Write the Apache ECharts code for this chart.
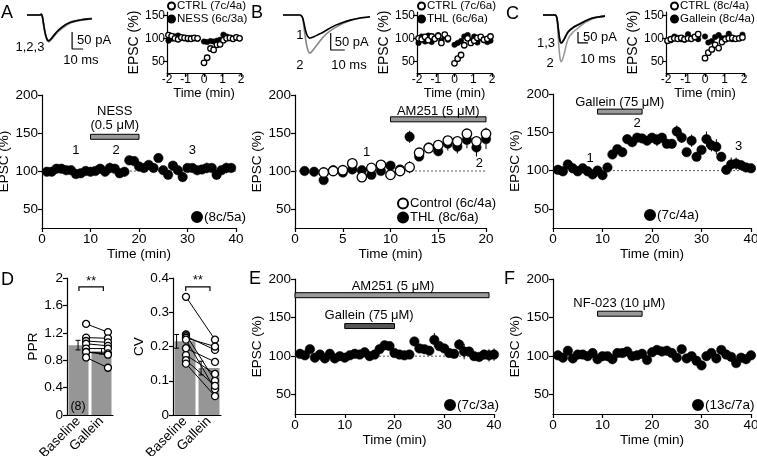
<!DOCTYPE html>
<html><head><meta charset="utf-8">
<script src="https://cdn.jsdelivr.net/npm/echarts@6/dist/echarts.min.js"></script>
<style>html,body{margin:0;padding:0;background:#fff}#c{width:757px;height:456px}</style>
</head><body><div id="c"></div>
<script>
// ---------------- DATA ----------------
// sample traces (ms, pA)
const traceTimeA = [0,12,13,14,15,16,17,18,19,20,22,25,28,32,36,40,45,50,55,59];
const trace1A = [0,0,3,-5,-25,-45,-60,-70,-75,-76,-70,-58,-47,-36,-27,-21,-17,-14,-12,-11];
const trace2A = [0,0,3,-5,-27,-48,-63,-73,-78,-79,-73,-61,-50,-39,-30,-23,-18,-15,-13,-11];
const trace3A = [0,0,3,-5,-24,-44,-59,-69,-74,-75,-69,-57,-46,-35,-26,-20,-16,-13,-11,-10];
const traceTimeB = [0,12,13,14,15,16,17,18,19,20,22,25,28,32,38,43,48,55,62];
const trace1B = [0,0,-2,-8,-25,-45,-58,-65,-68,-67,-64,-58,-52,-42,-29,-21,-15,-9,-5];
const trace2B = [0,0,-2,-10,-38,-68,-92,-106,-112,-110,-100,-84,-68,-52,-35,-24,-16,-9,-5];
const traceTimeC = [0,12,13,14,15,16,17,18,19,21,25,30,35,42,49,55,62];
const trace1C = [0,0,-3,-15,-50,-90,-118,-128,-126,-112,-78,-58,-45,-28,-15,-9,-5];
const trace2C = [0,0,-3,-20,-80,-150,-195,-212,-208,-180,-110,-78,-60,-35,-18,-10,-5];
const trace3C = [0,0,-3,-14,-48,-88,-115,-125,-124,-110,-76,-56,-44,-27,-14,-9,-5];
const scaleBarA = [[41,-50],[41,-100],[51,-100]];
const scaleBarB = [[34,-53],[34,-103],[44,-103]];
const scaleBarC = [[35,-77],[35,-127],[45,-127]];

// insets (min, %)
const insetTime = [-1.92,-1.75,-1.57,-1.4,-1.22,-1.05,-0.87,-0.7,-0.52,-0.35,0,0.17,0.35,0.52,0.7,0.87,1.05,1.22,1.4,1.57,1.75,1.92];
const insetNessA = [95,99,104,106,101,100,98,101,100,99,93,92,94,93,95,97,108,104,101,99,102,100];
const insetCtrlA = [107,105,100,98,102,101,100,99,101,100,47,58,78,75,86,87,96,100,101,99,102,100];
const insetThlB  = [90,104,93,106,92,101,107,95,104,97,86,90,94,104,107,96,104,91,100,96,92,95];
const insetCtrlB = [100,98,103,96,104,99,105,90,108,100,46,56,64,85,100,90,95,101,103,97,99,104];
const insetGalC  = [94,96,104,101,98,97,109,100,102,98,104,91,94,103,107,100,101,110,98,99,100,108];
const insetCtrlC = [95,98,100,99,101,98,100,99,103,109,57,69,76,86,79,92,98,100,101,99,100,102];

// main A: NESS
const timeA = [1,2,3,4,5,6,7,8,9,10,11,12,13,14,15,16,17,18,19,20,21,22,23,24,25,26,27,28,29,30,31,32,33,34,35,36,37,38,39];
const nessMain = [99,99,103,103,101,101,96,97,100,99,100,103,99,104,103,97,99,114,113,106,104,108,104,117,101,95,107,101,92,104,104,101,102,104,104,95,101,104,104];
const nessErr  = [3,3,4,4,3,3,4,3,3,3,3,4,4,7,4,6,6,4,4,4,4,3,3,3,3,4,3,3,6,4,5,4,4,7,4,6,5,7,6];
// main B: AM251
const timeThlB = [1,2,3,4,5,6,7,8,9,10,11,12,13,14,15,16,17,18,19,20];
const thlMain  = [100,99,88,101,98,102,101,95,100,107,102,145,119,131,126,136,132,141,131,142];
const thlErr   = [2,2,4,5,4,4,3,5,4,4,5,8,5,6,6,9,9,11,12,13];
const timeCtrlB = [3,4,5,6,7,8,9,10,11,12,13,14,15,16,17,18,19,20];
const ctrlMain  = [98,100,101,110,92,104,108,95,100,105,124,130,134,140,139,149,139,149];
const ctrlErr   = [4,4,4,6,5,4,5,4,5,8,5,6,6,6,5,6,6,8];
// main C: Gallein
const timeC = [1,2,3,4,5,6,7,8,9,10,11,12,13,14,15,16,17,18,19,20,21,22,23,24,25,26,27,28,29,30,31,32,33,34,35,36,37,38,39,40];
const galMain = [101,99,108,103,99,103,99,95,100,94,104,121,128,124,141,137,143,142,139,143,140,143,135,135,151,143,124,139,118,127,141,133,131,118,101,108,109,107,104,103];
const galErr  = [3,3,3,3,3,3,3,3,3,5,5,5,5,5,6,5,5,4,4,5,8,6,4,4,8,7,4,8,5,4,10,8,10,6,6,9,8,6,4,4];
// E: AM251 + Gallein
const timeE = [1,2,3,4,5,6,7,8,9,10,11,12,13,14,15,16,17,18,19,20,21,22,23,24,25,26,27,28,29,30,31,32,33,34,35,36,37,38,39,40];
const amGalMain = [103,101,109,98,102,97,103,97,100,98,101,103,102,105,100,102,109,114,113,104,102,101,102,119,110,109,107,121,113,110,104,103,115,106,106,100,99,102,101,102];
const amGalErr  = [3,3,5,3,3,3,3,3,3,3,3,3,3,3,3,3,3,5,3,3,3,3,3,5,3,3,3,9,6,3,3,3,7,10,3,3,3,6,8,8];
// F: NF-023
const timeF = [1,2,3,4,5,6,7,8,9,10,11,12,13,14,15,16,17,18,19,20,21,22,23,24,25,26,27,28,29,30,31,32,33,34,35,36,37,38,39,40];
const nfMain = [101,98,107,97,102,102,100,104,96,100,100,96,104,104,106,100,101,103,95,105,108,106,107,104,98,109,97,100,94,88,100,104,97,108,102,99,91,98,96,101];
const nfErr  = [2,2,3,2,2,2,2,2,2,2,2,2,2,2,2,2,2,2,3,2,2,2,2,2,2,2,2,2,2,2,2,2,2,2,2,2,2,2,2,2];

// D: PPR and CV
const dCats = ['Baseline','Gallein'];
const pprBase = [1.33,1.13,1.08,1.04,0.97,0.92,0.92,0.84];
const pprGall = [1.21,1.12,1.06,1.01,0.97,0.90,0.88,0.69];
const pprMean = [1.02,0.93];
const pprSem  = [0.07,0.04];
const cvBase = [0.345,0.235,0.23,0.225,0.22,0.195,0.175,0.16,0.15];
const cvGall = [0.22,0.10,0.19,0.20,0.075,0.155,0.12,0.085,0.055];
const cvMean = [0.215,0.137];
const cvSem  = [0.02,0.02];

// drug bars [start, end, level]
const drugNESS = [10,20,145];
const drugAM251B = [10,20,168];
const drugGalC = [9,18,177];
const drugAM251E = [0,39,179];
const drugGalE = [10,20,139];
const drugNF = [9,18,155];

// tick labels
const mainYTicks = [50,100,150,200];
const insetYTicks = [50,100,150];

// text annotations [x, y, text]
const annotA = [[7,127,'1'],[15.3,127,'2'],[31,127,'3'],[15,178,'NESS'],[15,160,'(0.5 μM)']];
const annotB = [[7.5,125,'1'],[19.3,110,'2'],[15,179,'AM251 (5 μM)']];
const annotC = [[7.5,116,'1'],[17,162,'2'],[37.5,131,'3'],[13.5,189,'Gallein (75 μM)']];
const annotE = [[19.7,191,'AM251 (5 μM)'],[14.9,153,'Gallein (75 μM)']];
const annotF = [[13.4,168,'NF-023 (10 μM)']];
const traceTextA = [[61,-76,'50 pA'],[49,-135,'10 ms'],[2.7,-94,'1,2,3']];
const traceTextB = [[49,-82,'50 pA'],[47,-147,'10 ms'],[12,-59,'1'],[12,-147,'2']];
const traceTextC = [[57,-100,'50 pA'],[55,-200,'10 ms'],[3,-127,'1,3'],[7,-218,'2']];

// ---------------- HELPERS ----------------
const FONT = '"Liberation Sans", Arial, Helvetica, sans-serif';
const FS = 13.5, FT = 13, FSI = 11.5;
function axis(o, fs, lm) {
  fs = fs || FS;
  const a = {
    type:'value', splitLine:{show:false},
    axisLine:{show:true, onZero:false, lineStyle:{color:'#000', width:1.2}},
    axisTick:{show:true, length:4, lineStyle:{color:'#000', width:1.2}},
    axisLabel:{color:'#000', fontSize:fs, fontFamily:FONT, margin:(lm==null?4:lm)},
    nameTextStyle:{color:'#000', fontSize:fs, fontFamily:FONT},
    nameLocation:'middle'
  };
  for (const k in o) {
    if (o[k] && typeof o[k]==='object' && !Array.isArray(o[k]) && a[k]) Object.assign(a[k], o[k]);
    else a[k] = o[k];
  }
  return a;
}
const hid = (g,min,max) => ({type:'value', gridIndex:g, min, max, show:false});
function pairs(t, v) { return t.map((x,i)=>[x, v[i]]); }
function triples(t, v, e) { return t.map((x,i)=>[x, v[i], e[i]]); }

function dotS(name, xi, yi, data, filled, size) {
  return {type:'scatter', name, xAxisIndex:xi, yAxisIndex:yi, data, symbol:'circle', symbolSize:size, silent:true, z:3,
    itemStyle: filled ? {color:'#000', borderColor:'#000', borderWidth:0.5, opacity:1} : {color:'#fff', borderColor:'#000', borderWidth:1.3, opacity:1}};
}
function errS(xi, yi, data, cap, z) {
  return {type:'custom', xAxisIndex:xi, yAxisIndex:yi, silent:true, z:z||2, data, encode:{x:0, y:1},
    renderItem(p, api) {
      const x=api.value(0), y=api.value(1), e=api.value(2);
      const a=api.coord([x,y-e]), b=api.coord([x,y+e]);
      const st={stroke:'#000', lineWidth:1};
      const ch=[{type:'line', shape:{x1:a[0],y1:a[1],x2:b[0],y2:b[1]}, style:st}];
      if (cap) {
        ch.push({type:'line', shape:{x1:a[0]-cap,y1:a[1],x2:a[0]+cap,y2:a[1]}, style:st});
        ch.push({type:'line', shape:{x1:b[0]-cap,y1:b[1],x2:b[0]+cap,y2:b[1]}, style:st});
      }
      return {type:'group', children:ch};
    }};
}
function drugBar(xi, yi, d, color) {
  return {type:'custom', xAxisIndex:xi, yAxisIndex:yi, silent:true, z:2, data:[d], encode:{x:[0,1], y:2},
    renderItem(p, api) {
      const a=api.coord([api.value(0), api.value(2)]), b=api.coord([api.value(1), api.value(2)]);
      return {type:'rect', shape:{x:a[0], y:a[1]-2.5, width:b[0]-a[0], height:5}, style:{fill:color, stroke:'#000', lineWidth:1}};
    }};
}
function refLine(xi, yi, x0, x1, y) {
  return {type:'custom', xAxisIndex:xi, yAxisIndex:yi, silent:true, z:1, data:[[x0,x1,y]], encode:{x:[0,1], y:2},
    renderItem(p, api) {
      const a=api.coord([api.value(0), api.value(2)]), b=api.coord([api.value(1), api.value(2)]);
      return {type:'line', shape:{x1:a[0],y1:a[1],x2:b[0],y2:b[1]}, style:{stroke:'#555', lineWidth:1, lineDash:[2,2]}};
    }};
}
function textS(xi, yi, items, fs) {
  return {type:'custom', xAxisIndex:xi, yAxisIndex:yi, silent:true, z:5, data:items.map(d=>[d[0],d[1]]),
    renderItem(p, api) {
      const d=items[p.dataIndex]; const c=api.coord([d[0], d[1]]);
      return {type:'text', x:c[0], y:c[1], style:{text:d[2], fill:'#000', align:'center', verticalAlign:'middle', fontSize:fs, fontFamily:FONT}};
    }};
}
function traceS(xi, yi, t, v, color) {
  return {type:'line', xAxisIndex:xi, yAxisIndex:yi, data:pairs(t,v), showSymbol:false, symbol:'none', smooth:0.3, silent:true, z:2,
    lineStyle:{color, width:1.6}};
}
function barScale(xi, yi, pts) {
  return {type:'line', xAxisIndex:xi, yAxisIndex:yi, data:pts, showSymbol:false, symbol:'none', silent:true, z:2, lineStyle:{color:'#000', width:1.2}};
}
function pairLines(xi, yi, xa, xb, va, vb) {
  return {type:'custom', xAxisIndex:xi, yAxisIndex:yi, silent:true, z:2, data:va.map((v,i)=>[v, vb[i]]), encode:{y:[0,1]},
    renderItem(p, api) {
      const a=api.coord([xa, api.value(0)]), b=api.coord([xb, api.value(1)]);
      return {type:'line', shape:{x1:a[0],y1:a[1],x2:b[0],y2:b[1]}, style:{stroke:'#000', lineWidth:1}};
    }};
}
function bracket(xi, yi, x0, x1, y) {
  return {type:'custom', xAxisIndex:xi, yAxisIndex:yi, silent:true, z:2, data:[[x0,x1,y]], encode:{x:[0,1], y:2},
    renderItem(p, api) {
      const a=api.coord([api.value(0), api.value(2)]), b=api.coord([api.value(1), api.value(2)]);
      return {type:'polyline', shape:{points:[[a[0],a[1]+4],[a[0],a[1]],[b[0],b[1]],[b[0],b[1]+4]]}, style:{stroke:'#000', lineWidth:1.2, fill:null}};
    }};
}
function leg(names, left, top, fs, icon, gap) {
  return {data:names, left, top, orient:'vertical', itemWidth:icon, itemHeight:icon, itemGap:gap, padding:0, selectedMode:false,
    icon:'circle', textStyle:{color:'#000', fontSize:fs, fontFamily:FONT, padding:[0,0,0,-3]}};
}

// ---------------- OPTION ----------------
const G = (left, top, width, height) => ({left, top, width, height, outerBoundsMode:'none', containLabel:false});
const grid = [
  G(27, 9.9, 66, 56.1),
  G(283, 9.9, 87, 59.5),
  G(543, 10.6, 62, 57.2),
  G(167, 12, 74, 61),
  G(417, 12, 75, 61),
  G(666, 12, 78, 61),
  G(42, 95, 194, 133),
  G(295, 95, 191, 133),
  G(553, 94, 198, 134),
  G(67, 278, 46, 137),
  G(173, 278, 48, 137),
  G(295, 279, 199, 135),
  G(553, 279, 198, 135)
];
const insetX = g => axis({gridIndex:g, min:-2, max:2, interval:1, name:'Time (min)', nameGap:5, nameTextStyle:{fontSize:13}}, 12, 1);
const insetY = g => axis({gridIndex:g, min:25, max:157, axisTick:{customValues:insetYTicks}, axisLabel:{customValues:insetYTicks}, name:'EPSC (%)', nameGap:23, nameTextStyle:{fontSize:14}}, 12, 2);
const mainX = (g, max, iv) => axis({gridIndex:g, min:0, max, interval:iv, name:'Time (min)', nameGap:17});
const mainY = g => axis({gridIndex:g, min:25, max:200, axisTick:{customValues:mainYTicks}, axisLabel:{customValues:mainYTicks}, name:'EPSC (%)', nameGap:26});
const catX = g => axis({gridIndex:g, type:'category', data:dCats, axisTick:{show:false}, axisLabel:{rotate:45, interval:0}});

const xAxis = [
  hid(0,0,60), hid(1,0,62), hid(2,0,62),
  insetX(3), insetX(4), insetX(5),
  mainX(6,40,10), mainX(7,20,5), mainX(8,40,10),
  catX(9), hid(9,0,2), catX(10), hid(10,0,2),
  mainX(11,40,10), mainX(12,40,10)
];
const yAxis = [
  hid(0,-150,15), hid(1,-160,15), hid(2,-240,20),
  insetY(3), insetY(4), insetY(5),
  mainY(6), mainY(7), mainY(8),
  axis({gridIndex:9, min:0, max:2, interval:0.4, name:'PPR', nameGap:27}),
  axis({gridIndex:10, min:0, max:0.4, interval:0.1, name:'CV', nameGap:27}),
  mainY(11), mainY(12)
];

const series = [];
// traces
series.push(traceS(0,0,traceTimeA,trace3A,'#666'), traceS(0,0,traceTimeA,trace2A,'#999'), traceS(0,0,traceTimeA,trace1A,'#000'));
series.push(barScale(0,0,scaleBarA), textS(0,0,traceTextA,FT));
series.push(traceS(1,1,traceTimeB,trace2B,'#888'), traceS(1,1,traceTimeB,trace1B,'#000'));
series.push(barScale(1,1,scaleBarB), textS(1,1,traceTextB,FT));
series.push(traceS(2,2,traceTimeC,trace2C,'#999'), traceS(2,2,traceTimeC,trace3C,'#555'), traceS(2,2,traceTimeC,trace1C,'#000'));
series.push(barScale(2,2,scaleBarC), textS(2,2,traceTextC,FT));
// insets
series.push(dotS('NESS (6c/3a)',3,3,pairs(insetTime,insetNessA),true,5.5), dotS('CTRL (7c/4a)',3,3,pairs(insetTime,insetCtrlA),false,5.5));
series.push(dotS('THL (6c/6a)',4,4,pairs(insetTime,insetThlB),true,5.5), dotS('CTRL (7c/6a)',4,4,pairs(insetTime,insetCtrlB),false,5.5));
series.push(dotS('Gallein (8c/4a)',5,5,pairs(insetTime,insetGalC),true,5.5), dotS('CTRL (8c/4a)',5,5,pairs(insetTime,insetCtrlC),false,5.5));
// main A
series.push(refLine(6,6,0,40,100), drugBar(6,6,drugNESS,'#999'), errS(6,6,triples(timeA,nessMain,nessErr)),
  dotS('(8c/5a)',6,6,pairs(timeA,nessMain),true,9.5), textS(6,6,annotA,FT));
// main B
series.push(refLine(7,7,0,20,100), drugBar(7,7,drugAM251B,'#999'),
  errS(7,7,triples(timeThlB,thlMain,thlErr)), dotS('THL (8c/6a)',7,7,pairs(timeThlB,thlMain),true,9.5),
  errS(7,7,triples(timeCtrlB,ctrlMain,ctrlErr),0,3), dotS('Control (6c/4a)',7,7,pairs(timeCtrlB,ctrlMain),false,9.5),
  textS(7,7,annotB,FT));
// main C
series.push(refLine(8,8,0,40,100), drugBar(8,8,drugGalC,'#999'), errS(8,8,triples(timeC,galMain,galErr)),
  dotS('(7c/4a)',8,8,pairs(timeC,galMain),true,9.5), textS(8,8,annotC,FT));
// D PPR
series.push({type:'bar', xAxisIndex:9, yAxisIndex:9, data:pprMean, barWidth:20, silent:true, z:1, itemStyle:{color:'#969696'}});
series.push(errS(10,9,[[0.48,pprMean[0],pprSem[0]],[1.5,pprMean[1],pprSem[1]]],2.5));
series.push(pairLines(10,9,0.83,1.78,pprBase,pprGall));
series.push(dotS('',10,9,pprBase.map(v=>[0.83,v]),false,7), dotS('',10,9,pprGall.map(v=>[1.78,v]),false,7));
series.push(bracket(10,9,0.52,1.58,1.87), textS(10,9,[[1.05,1.95,'**'],[0.48,0.12,'(8)']],12.5));
// D CV
series.push({type:'bar', xAxisIndex:11, yAxisIndex:10, data:cvMean, barWidth:21, silent:true, z:1, itemStyle:{color:'#969696'}});
series.push(errS(12,10,[[0.15,cvMean[0],cvSem[0]],[1.17,cvMean[1],cvSem[1]]],2.5));
series.push(pairLines(12,10,0.54,1.75,cvBase,cvGall));
series.push(dotS('',12,10,cvBase.map(v=>[0.54,v]),false,7), dotS('',12,10,cvGall.map(v=>[1.75,v]),false,7));
series.push(bracket(12,10,0.53,1.54,0.374), textS(12,10,[[1.04,0.393,'**']],12.5));
// E
series.push(refLine(13,11,0,40,100), drugBar(13,11,drugAM251E,'#999'), drugBar(13,11,drugGalE,'#555'),
  errS(13,11,triples(timeE,amGalMain,amGalErr)), dotS('(7c/3a)',13,11,pairs(timeE,amGalMain),true,9.5), textS(13,11,annotE,FT));
// F
series.push(drugBar(14,12,drugNF,'#999'), errS(14,12,triples(timeF,nfMain,nfErr)),
  dotS('(13c/7a)',14,12,pairs(timeF,nfMain),true,9.5), textS(14,12,annotF,FT));

const legend = [
  leg(['CTRL (7c/4a)','NESS (6c/3a)'],167,0,FSI,7,1),
  leg(['CTRL (7c/6a)','THL (6c/6a)'],417,0,FSI,7,1),
  leg(['CTRL (8c/4a)','Gallein (8c/4a)'],670,0,FSI,7,1),
  leg(['(8c/5a)'],191,210,FS,10,2),
  leg(['Control (6c/4a)','THL (8c/6a)'],397,197,FT,10,1),
  leg(['(7c/4a)'],644,208,FS,10,2),
  leg(['(7c/3a)'],444,398,FS,10,2),
  leg(['(13c/7a)'],692,398,FS,10,2)
];
const letter = (t,x,y) => ({type:'text', x, y, style:{text:t, fill:'#000', fontSize:18, fontFamily:FONT, verticalAlign:'middle'}});
const option = {
  animation:false, backgroundColor:'#fff',
  grid, xAxis, yAxis, series, legend,
  graphic:[letter('A',1,13), letter('B',251,13), letter('C',506,14), letter('D',1,280), letter('E',249,279), letter('F',504,279)]
};
const chart = echarts.init(document.getElementById('c'), null, {renderer:'canvas'});
chart.setOption(option);
</script></body></html>
